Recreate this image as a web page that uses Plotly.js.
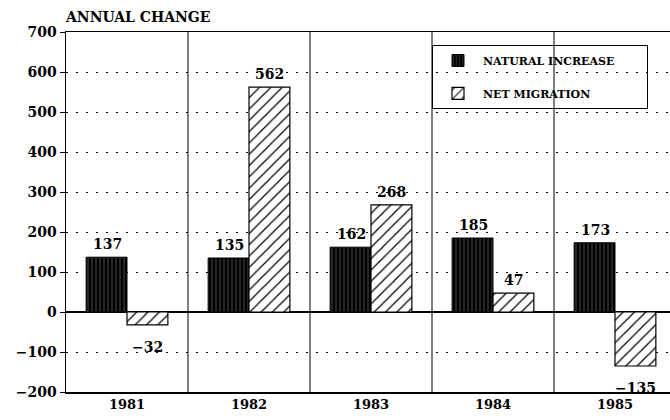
<!DOCTYPE html>
<html><head><meta charset="utf-8">
<script src="https://cdn.plot.ly/plotly-3.0.1.min.js"></script>
<style>html,body{margin:0;padding:0;overflow:hidden;background:#fff}</style>
</head><body><div id="chart"></div>
<script>
const years = ['1981','1982','1983','1984','1985'];
const naturalIncrease = [137, 135, 162, 185, 173];
const netMigration = [-32, 562, 268, 47, -135];
const seriesNames = ['NATURAL INCREASE', 'NET MIGRATION'];
const yTicks = [-200,-100,0,100,200,300,400,500,600,700];
const yTickText = ['\u2212200','\u2212100','0','100','200','300','400','500','600','700'];

const F = 'DejaVu Serif, Liberation Serif, serif';
const pad = '\u00a0\u00a0\u00a0\u00a0\u00a0\u00a0\u00a0';
const traces = [
  {type:'bar', name:seriesNames[0] + pad, legendgroup:'a', x:years, y:naturalIncrease,
   marker:{color:'#000', line:{color:'#000', width:1},
     pattern:{shape:'|', fgcolor:'#fff', bgcolor:'#000', size:4, solidity:0.15, fillmode:'overlay'}}},
  {type:'bar', name:seriesNames[1], legendgroup:'b', x:years, y:netMigration,
   marker:{color:'#fff', line:{color:'#000', width:1.2},
     pattern:{shape:'/', fgcolor:'#000', bgcolor:'#fff', size:8, solidity:0.15}}}
];

const annotations = [];
years.forEach((yr,i)=>{
  [[naturalIncrease[i],-20],[netMigration[i],20]].forEach(([v,dx])=>{
    annotations.push({x:i, y:v, xref:'x', yref:'y', text:(v<0?'\u2212':'')+Math.abs(v),
      showarrow:false, xshift:dx, yshift: v<0 ? -12 : 3, yanchor: v<0 ? 'top':'bottom',
      font:{family:F, size:14, weight:'bold', color:'#000'}});
  });
});

const shapes = [];
for (let i=0;i<years.length-1;i++){
  shapes.push({type:'line', xref:'x', yref:'paper', x0:i+0.5, x1:i+0.5, y0:0, y1:1,
    line:{color:'#000', width:1}});
}

const layout = {
  width:680, height:420,
  margin:{l:66, r:4, t:32, b:28},
  paper_bgcolor:'#fff', plot_bgcolor:'#fff',
  title:{text:'ANNUAL CHANGE', x:66/680, xanchor:'left', xref:'container', y:1-17/420, yanchor:'middle', yref:'container',
    font:{family:F, size:14, weight:'bold', color:'#000'}},
  barmode:'group', bargap:0.33, bargroupgap:0,
  showlegend:true,
  legend:{x:0.6, y:0.964, xanchor:'left', yanchor:'top', bgcolor:'rgba(0,0,0,0)',
    bordercolor:'#000', borderwidth:1, font:{family:F, size:11, weight:'bold', color:'#000'},
    itemwidth:40, tracegroupgap:14, traceorder:'grouped'},
  xaxis:{type:'category', range:[-0.5,4.5], showline:true, linecolor:'#000', linewidth:1.5, mirror:true,
    ticks:'', showgrid:false, tickfont:{family:F, size:13, weight:'bold', color:'#000'}},
  yaxis:{range:[-200,700], tickvals:yTicks, ticktext:yTickText, showline:true, linecolor:'#000', linewidth:1.5,
    ticks:'outside', ticklen:5, tickcolor:'#000', showgrid:true, gridcolor:'#000', griddash:'2px,8px', gridwidth:1,
    zeroline:true, zerolinecolor:'#000', zerolinewidth:1.5,
    tickfont:{family:F, size:14, weight:'bold', color:'#000'}},
  annotations, shapes
};
Plotly.newPlot('chart', traces, layout, {displayModeBar:false, staticPlot:true});
</script></body></html>
